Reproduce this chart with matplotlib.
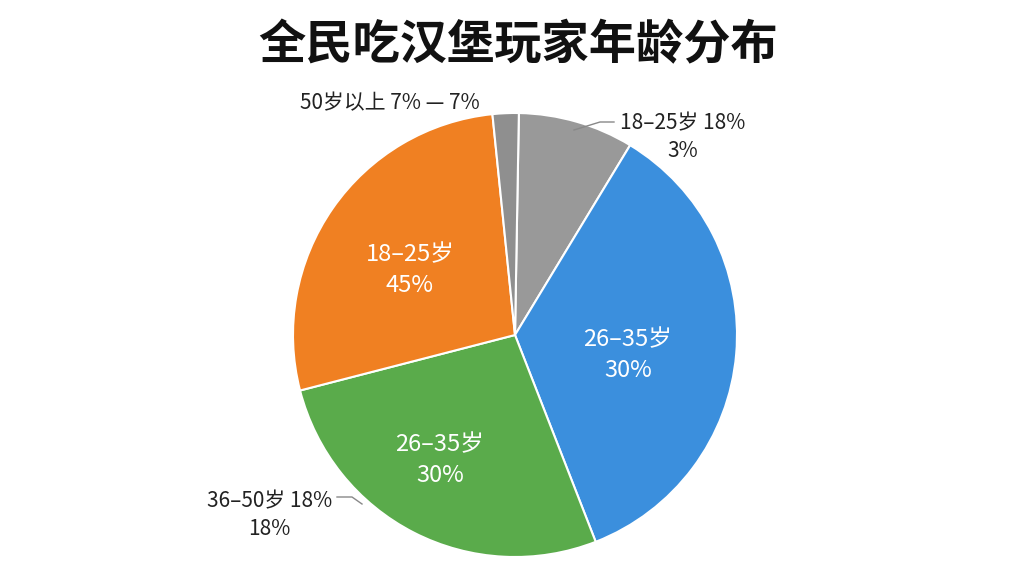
import matplotlib
matplotlib.use("Agg")
import matplotlib.pyplot as plt

plt.rcParams['font.family'] = ['Noto Sans CJK SC', 'DejaVu Sans']

title = "全民吃汉堡玩家年龄分布"
shares = [8.4, 35.4, 26.9, 27.4, 1.9]
colors = ["#999999", "#3b8fdd", "#5aab4b", "#f08022", "#8f8f8f"]
inner_labels = ["", "26–35岁\n30%", "26–35岁\n30%", "18–25岁\n45%", ""]
outer_labels = ["18–25岁 18%\n3%", "", "36–50岁 18%\n18%", "", "50岁以上 7% — 7%"]

W, H = 1024, 576
fig = plt.figure(figsize=(W/100, H/100), dpi=100)
fig.patch.set_facecolor("white")
cx, cy, r = 515, 335, 222
ax = fig.add_axes([(cx-r)/W, (H-cy-r)/H, 2*r/W, 2*r/H])
ax.pie(shares, colors=colors, startangle=89, counterclock=False,
       wedgeprops=dict(edgecolor="white", linewidth=1.5), radius=1)
ax.set_xlim(-1, 1); ax.set_ylim(-1, 1); ax.set_aspect("equal"); ax.axis("off")

def fx(px): return px / W
def fy(py): return 1 - py / H

fig.text(fx(518), fy(45), title, ha="center", va="center", fontsize=34, fontweight="bold", color="#111111")

inner_pos = [None, (628, 355), (440, 460), (410, 270), None]
for lab, pos in zip(inner_labels, inner_pos):
    if lab:
        fig.text(fx(pos[0]), fy(pos[1]), lab, ha="center", va="center", fontsize=17,
                 color="white", linespacing=1.45)

outer_pos = [(620, 137, "left"), None, (332, 515, "right"), None, (300, 103, "left")]
for lab, pos in zip(outer_labels, outer_pos):
    if lab:
        fig.text(fx(pos[0]), fy(pos[1]), lab, ha=pos[2], va="center", fontsize=15,
                 color="#222222", linespacing=1.3, multialignment="center")

lines = [((574, 130), (600, 122), (614, 122)), ((337, 497), (352, 497), (362, 504))]
for pts in lines:
    xs = [fx(p[0]) for p in pts]; ys = [fy(p[1]) for p in pts]
    fig.add_artist(plt.Line2D(xs, ys, color="#888888", lw=1))

fig.savefig("out.png", dpi=100)
